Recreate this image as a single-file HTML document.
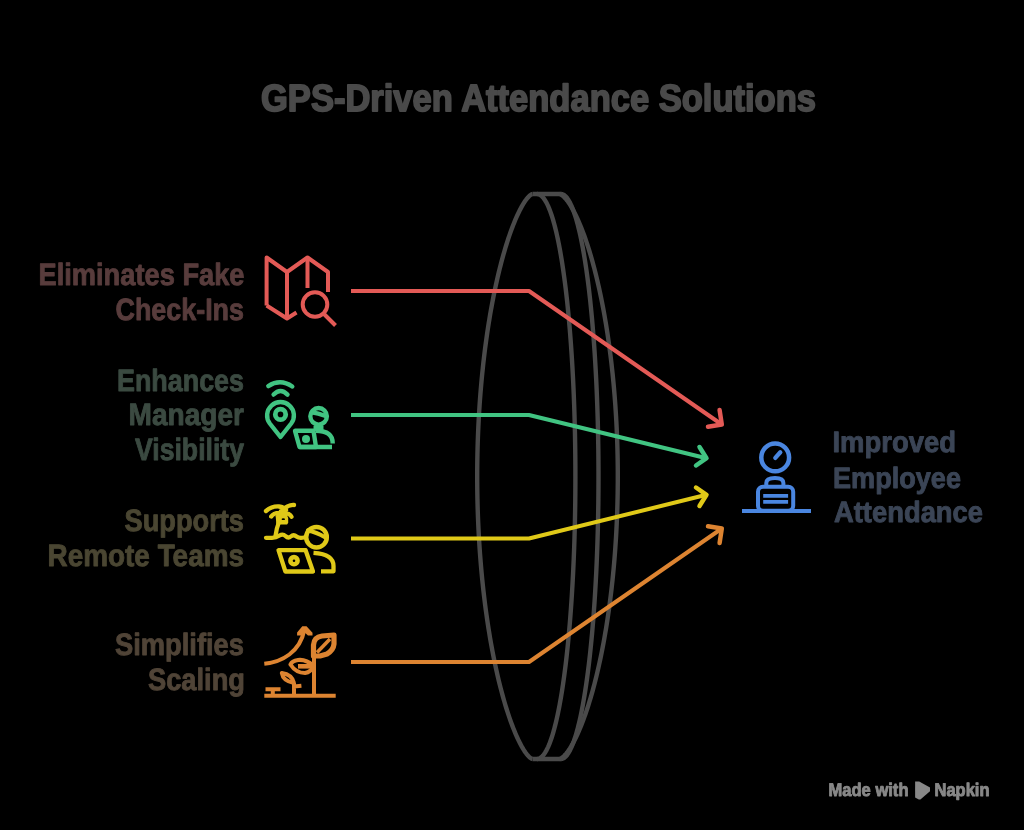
<!DOCTYPE html>
<html><head><meta charset="utf-8"><style>
html,body{margin:0;padding:0;background:#000;width:1024px;height:830px;overflow:hidden}
svg{display:block;will-change:transform} text{text-rendering:geometricPrecision;font-family:'Liberation Sans',sans-serif;font-weight:bold}
</style></head><body>
<svg width="1024" height="830" viewBox="0 0 1024 830">
<rect width="1024" height="830" fill="#000"/>
<text x="261.0" y="110.9" font-size="37.9" fill="#4a4a4a" stroke="#4a4a4a" stroke-width="1.8" stroke-linejoin="round" textLength="555.0" lengthAdjust="spacingAndGlyphs">GPS-Driven Attendance Solutions</text>
<text x="38.5" y="284.8" font-size="30.8" fill="#583c3c" stroke="#583c3c" stroke-width="0.9" stroke-linejoin="round" textLength="206.0" lengthAdjust="spacingAndGlyphs">Eliminates Fake</text>
<text x="115.5" y="319.9" font-size="30.8" fill="#583c3c" stroke="#583c3c" stroke-width="0.9" stroke-linejoin="round" textLength="128.5" lengthAdjust="spacingAndGlyphs">Check-Ins</text>
<text x="117.0" y="391.0" font-size="30.8" fill="#3b4a41" stroke="#3b4a41" stroke-width="0.9" stroke-linejoin="round" textLength="127.0" lengthAdjust="spacingAndGlyphs">Enhances</text>
<text x="128.5" y="424.8" font-size="30.8" fill="#3b4a41" stroke="#3b4a41" stroke-width="0.9" stroke-linejoin="round" textLength="115.5" lengthAdjust="spacingAndGlyphs">Manager</text>
<text x="135.0" y="460.0" font-size="30.8" fill="#3b4a41" stroke="#3b4a41" stroke-width="0.9" stroke-linejoin="round" textLength="109.0" lengthAdjust="spacingAndGlyphs">Visibility</text>
<text x="124.5" y="531.1" font-size="30.8" fill="#4a4632" stroke="#4a4632" stroke-width="0.9" stroke-linejoin="round" textLength="119.5" lengthAdjust="spacingAndGlyphs">Supports</text>
<text x="47.5" y="566.3" font-size="30.8" fill="#4a4632" stroke="#4a4632" stroke-width="0.9" stroke-linejoin="round" textLength="196.5" lengthAdjust="spacingAndGlyphs">Remote Teams</text>
<text x="115.0" y="655.2" font-size="30.8" fill="#504437" stroke="#504437" stroke-width="0.9" stroke-linejoin="round" textLength="129.0" lengthAdjust="spacingAndGlyphs">Simplifies</text>
<text x="148.0" y="689.5" font-size="30.8" fill="#504437" stroke="#504437" stroke-width="0.9" stroke-linejoin="round" textLength="97.0" lengthAdjust="spacingAndGlyphs">Scaling</text>
<text x="832.5" y="452.0" font-size="29.4" fill="#3b4556" stroke="#3b4556" stroke-width="0.9" stroke-linejoin="round" textLength="123.5" lengthAdjust="spacingAndGlyphs">Improved</text>
<text x="833.0" y="487.7" font-size="29.4" fill="#3b4556" stroke="#3b4556" stroke-width="0.9" stroke-linejoin="round" textLength="128.0" lengthAdjust="spacingAndGlyphs">Employee</text>
<text x="834.0" y="521.9" font-size="29.4" fill="#3b4556" stroke="#3b4556" stroke-width="0.9" stroke-linejoin="round" textLength="149.0" lengthAdjust="spacingAndGlyphs">Attendance</text>
<text x="828.5" y="795.6" font-size="18.4" fill="#888888" stroke="#888888" stroke-width="0.9" stroke-linejoin="round" textLength="80.0" lengthAdjust="spacingAndGlyphs">Made with</text>
<text x="934.5" y="795.6" font-size="18.4" fill="#888888" stroke="#888888" stroke-width="0.9" stroke-linejoin="round" textLength="55.0" lengthAdjust="spacingAndGlyphs">Napkin</text>

<g stroke="#4a4a4a" stroke-width="4.4" fill="none" stroke-linejoin="round">
<path d="M532.50,194.00 L532.21,194.05 L531.78,194.22 L531.26,194.49 L530.67,194.87 L530.04,195.36 L529.36,195.96 L528.65,196.66 L527.90,197.48 L527.12,198.40 L526.31,199.43 L525.48,200.56 L524.63,201.81 L523.76,203.15 L522.87,204.61 L521.96,206.16 L521.04,207.83 L520.10,209.59 L519.16,211.46 L518.20,213.43 L517.23,215.50 L516.26,217.68 L515.28,219.95 L514.30,222.32 L513.31,224.79 L512.31,227.36 L511.32,230.02 L510.32,232.78 L509.33,235.63 L508.33,238.57 L507.34,241.61 L506.35,244.74 L505.37,247.95 L504.39,251.26 L503.41,254.65 L502.45,258.12 L501.49,261.69 L500.54,265.33 L499.60,269.05 L498.66,272.86 L497.74,276.74 L496.84,280.70 L495.94,284.74 L495.06,288.85 L494.19,293.03 L493.34,297.28 L492.50,301.61 L491.68,306.00 L490.87,310.45 L490.08,314.97 L489.32,319.55 L488.57,324.19 L487.84,328.89 L487.13,333.65 L486.44,338.46 L485.77,343.33 L485.12,348.25 L484.50,353.21 L483.90,358.23 L483.32,363.29 L482.77,368.39 L482.24,373.54 L481.73,378.72 L481.25,383.94 L480.80,389.20 L480.37,394.49 L479.96,399.82 L479.59,405.17 L479.24,410.55 L478.91,415.96 L478.62,421.39 L478.35,426.84 L478.11,432.31 L477.90,437.79 L477.71,443.30 L477.56,448.81 L477.43,454.34 L477.33,459.87 L477.26,465.41 L477.21,470.95 L477.20,476.50 L477.21,482.05 L477.26,487.59 L477.33,493.13 L477.43,498.66 L477.56,504.19 L477.71,509.70 L477.90,515.21 L478.11,520.69 L478.35,526.16 L478.62,531.61 L478.91,537.04 L479.24,542.45 L479.59,547.83 L479.96,553.18 L480.37,558.51 L480.80,563.80 L481.25,569.06 L481.73,574.28 L482.24,579.46 L482.77,584.61 L483.32,589.71 L483.90,594.77 L484.50,599.79 L485.12,604.75 L485.77,609.67 L486.44,614.54 L487.13,619.35 L487.84,624.11 L488.57,628.81 L489.32,633.45 L490.08,638.03 L490.87,642.55 L491.68,647.00 L492.50,651.39 L493.34,655.72 L494.19,659.97 L495.06,664.15 L495.94,668.26 L496.84,672.30 L497.74,676.26 L498.66,680.14 L499.60,683.95 L500.54,687.67 L501.49,691.31 L502.45,694.88 L503.41,698.35 L504.39,701.74 L505.37,705.05 L506.35,708.26 L507.34,711.39 L508.33,714.43 L509.33,717.37 L510.32,720.22 L511.32,722.98 L512.31,725.64 L513.31,728.21 L514.30,730.68 L515.28,733.05 L516.26,735.32 L517.23,737.50 L518.20,739.57 L519.16,741.54 L520.10,743.41 L521.04,745.17 L521.96,746.84 L522.87,748.39 L523.76,749.85 L524.63,751.19 L525.48,752.44 L526.31,753.57 L527.12,754.60 L527.90,755.52 L528.65,756.34 L529.36,757.04 L530.04,757.64 L530.67,758.13 L531.26,758.51 L531.78,758.78 L532.21,758.95 L532.50,759.00"/>
<path d="M537.00,194.00 L537.75,194.05 L538.51,194.22 L539.26,194.49 L540.01,194.87 L540.76,195.36 L541.51,195.96 L542.26,196.66 L543.01,197.48 L543.75,198.40 L544.49,199.43 L545.23,200.56 L545.96,201.81 L546.70,203.15 L547.42,204.61 L548.15,206.16 L548.87,207.83 L549.58,209.59 L550.29,211.46 L551.00,213.43 L551.70,215.50 L552.39,217.68 L553.08,219.95 L553.76,222.32 L554.43,224.79 L555.10,227.36 L555.76,230.02 L556.42,232.78 L557.06,235.63 L557.70,238.57 L558.33,241.61 L558.96,244.74 L559.57,247.95 L560.18,251.26 L560.77,254.65 L561.36,258.12 L561.94,261.69 L562.51,265.33 L563.07,269.05 L563.61,272.86 L564.15,276.74 L564.68,280.70 L565.20,284.74 L565.70,288.85 L566.20,293.03 L566.68,297.28 L567.16,301.61 L567.62,306.00 L568.07,310.45 L568.50,314.97 L568.93,319.55 L569.34,324.19 L569.74,328.89 L570.13,333.65 L570.50,338.46 L570.87,343.33 L571.21,348.25 L571.55,353.21 L571.87,358.23 L572.18,363.29 L572.48,368.39 L572.76,373.54 L573.03,378.72 L573.28,383.94 L573.52,389.20 L573.75,394.49 L573.96,399.82 L574.16,405.17 L574.34,410.55 L574.51,415.96 L574.66,421.39 L574.80,426.84 L574.93,432.31 L575.04,437.79 L575.13,443.30 L575.22,448.81 L575.28,454.34 L575.33,459.87 L575.37,465.41 L575.39,470.95 L575.40,476.50 L575.39,482.05 L575.37,487.59 L575.33,493.13 L575.28,498.66 L575.22,504.19 L575.13,509.70 L575.04,515.21 L574.93,520.69 L574.80,526.16 L574.66,531.61 L574.51,537.04 L574.34,542.45 L574.16,547.83 L573.96,553.18 L573.75,558.51 L573.52,563.80 L573.28,569.06 L573.03,574.28 L572.76,579.46 L572.48,584.61 L572.18,589.71 L571.87,594.77 L571.55,599.79 L571.21,604.75 L570.87,609.67 L570.50,614.54 L570.13,619.35 L569.74,624.11 L569.34,628.81 L568.93,633.45 L568.50,638.03 L568.07,642.55 L567.62,647.00 L567.16,651.39 L566.68,655.72 L566.20,659.97 L565.70,664.15 L565.20,668.26 L564.68,672.30 L564.15,676.26 L563.61,680.14 L563.07,683.95 L562.51,687.67 L561.94,691.31 L561.36,694.88 L560.77,698.35 L560.18,701.74 L559.57,705.05 L558.96,708.26 L558.33,711.39 L557.70,714.43 L557.06,717.37 L556.42,720.22 L555.76,722.98 L555.10,725.64 L554.43,728.21 L553.76,730.68 L553.08,733.05 L552.39,735.32 L551.70,737.50 L551.00,739.57 L550.29,741.54 L549.58,743.41 L548.87,745.17 L548.15,746.84 L547.42,748.39 L546.70,749.85 L545.96,751.19 L545.23,752.44 L544.49,753.57 L543.75,754.60 L543.01,755.52 L542.26,756.34 L541.51,757.04 L540.76,757.64 L540.01,758.13 L539.26,758.51 L538.51,758.78 L537.75,758.95 L537.00,759.00"/>
<path d="M532.5,194 L561,194 M532.5,759 L561,759"/>
<path d="M561.00,194.00 L561.68,194.05 L562.38,194.22 L563.09,194.49 L563.80,194.87 L564.51,195.36 L565.22,195.96 L565.94,196.66 L566.65,197.48 L567.37,198.40 L568.08,199.43 L568.79,200.56 L569.50,201.81 L570.21,203.15 L570.92,204.61 L571.62,206.16 L572.32,207.83 L573.01,209.59 L573.71,211.46 L574.39,213.43 L575.08,215.50 L575.76,217.68 L576.43,219.95 L577.10,222.32 L577.76,224.79 L578.41,227.36 L579.06,230.02 L579.71,232.78 L580.34,235.63 L580.97,238.57 L581.59,241.61 L582.20,244.74 L582.81,247.95 L583.41,251.26 L583.99,254.65 L584.57,258.12 L585.14,261.69 L585.71,265.33 L586.26,269.05 L586.80,272.86 L587.33,276.74 L587.86,280.70 L588.37,284.74 L588.87,288.85 L589.36,293.03 L589.84,297.28 L590.31,301.61 L590.76,306.00 L591.21,310.45 L591.64,314.97 L592.07,319.55 L592.47,324.19 L592.87,328.89 L593.26,333.65 L593.63,338.46 L593.99,343.33 L594.34,348.25 L594.67,353.21 L594.99,358.23 L595.30,363.29 L595.59,368.39 L595.87,373.54 L596.14,378.72 L596.39,383.94 L596.63,389.20 L596.85,394.49 L597.06,399.82 L597.26,405.17 L597.44,410.55 L597.61,415.96 L597.77,421.39 L597.90,426.84 L598.03,432.31 L598.14,437.79 L598.23,443.30 L598.32,448.81 L598.38,454.34 L598.43,459.87 L598.47,465.41 L598.49,470.95 L598.50,476.50 L598.49,482.05 L598.47,487.59 L598.43,493.13 L598.38,498.66 L598.32,504.19 L598.23,509.70 L598.14,515.21 L598.03,520.69 L597.90,526.16 L597.77,531.61 L597.61,537.04 L597.44,542.45 L597.26,547.83 L597.06,553.18 L596.85,558.51 L596.63,563.80 L596.39,569.06 L596.14,574.28 L595.87,579.46 L595.59,584.61 L595.30,589.71 L594.99,594.77 L594.67,599.79 L594.34,604.75 L593.99,609.67 L593.63,614.54 L593.26,619.35 L592.87,624.11 L592.47,628.81 L592.07,633.45 L591.64,638.03 L591.21,642.55 L590.76,647.00 L590.31,651.39 L589.84,655.72 L589.36,659.97 L588.87,664.15 L588.37,668.26 L587.86,672.30 L587.33,676.26 L586.80,680.14 L586.26,683.95 L585.71,687.67 L585.14,691.31 L584.57,694.88 L583.99,698.35 L583.41,701.74 L582.81,705.05 L582.20,708.26 L581.59,711.39 L580.97,714.43 L580.34,717.37 L579.71,720.22 L579.06,722.98 L578.41,725.64 L577.76,728.21 L577.10,730.68 L576.43,733.05 L575.76,735.32 L575.08,737.50 L574.39,739.57 L573.71,741.54 L573.01,743.41 L572.32,745.17 L571.62,746.84 L570.92,748.39 L570.21,749.85 L569.50,751.19 L568.79,752.44 L568.08,753.57 L567.37,754.60 L566.65,755.52 L565.94,756.34 L565.22,757.04 L564.51,757.64 L563.80,758.13 L563.09,758.51 L562.38,758.78 L561.68,758.95 L561.00,759.00"/>
<path d="M559.50,194.00 L559.83,194.05 L560.31,194.22 L560.89,194.49 L561.53,194.87 L562.22,195.36 L562.95,195.96 L563.73,196.66 L564.54,197.48 L565.38,198.40 L566.24,199.43 L567.13,200.56 L568.04,201.81 L568.98,203.15 L569.93,204.61 L570.89,206.16 L571.87,207.83 L572.87,209.59 L573.87,211.46 L574.88,213.43 L575.91,215.50 L576.94,217.68 L577.97,219.95 L579.01,222.32 L580.06,224.79 L581.10,227.36 L582.15,230.02 L583.20,232.78 L584.25,235.63 L585.29,238.57 L586.34,241.61 L587.38,244.74 L588.41,247.95 L589.44,251.26 L590.46,254.65 L591.47,258.12 L592.48,261.69 L593.47,265.33 L594.46,269.05 L595.43,272.86 L596.40,276.74 L597.35,280.70 L598.28,284.74 L599.20,288.85 L600.11,293.03 L601.00,297.28 L601.88,301.61 L602.73,306.00 L603.57,310.45 L604.39,314.97 L605.19,319.55 L605.98,324.19 L606.74,328.89 L607.48,333.65 L608.19,338.46 L608.89,343.33 L609.56,348.25 L610.21,353.21 L610.84,358.23 L611.44,363.29 L612.01,368.39 L612.57,373.54 L613.09,378.72 L613.59,383.94 L614.06,389.20 L614.51,394.49 L614.93,399.82 L615.32,405.17 L615.68,410.55 L616.02,415.96 L616.33,421.39 L616.60,426.84 L616.85,432.31 L617.08,437.79 L617.27,443.30 L617.43,448.81 L617.56,454.34 L617.67,459.87 L617.74,465.41 L617.79,470.95 L617.80,476.50 L617.79,482.05 L617.74,487.59 L617.67,493.13 L617.56,498.66 L617.43,504.19 L617.27,509.70 L617.08,515.21 L616.85,520.69 L616.60,526.16 L616.33,531.61 L616.02,537.04 L615.68,542.45 L615.32,547.83 L614.93,553.18 L614.51,558.51 L614.06,563.80 L613.59,569.06 L613.09,574.28 L612.57,579.46 L612.01,584.61 L611.44,589.71 L610.84,594.77 L610.21,599.79 L609.56,604.75 L608.89,609.67 L608.19,614.54 L607.48,619.35 L606.74,624.11 L605.98,628.81 L605.19,633.45 L604.39,638.03 L603.57,642.55 L602.73,647.00 L601.88,651.39 L601.00,655.72 L600.11,659.97 L599.20,664.15 L598.28,668.26 L597.35,672.30 L596.40,676.26 L595.43,680.14 L594.46,683.95 L593.47,687.67 L592.48,691.31 L591.47,694.88 L590.46,698.35 L589.44,701.74 L588.41,705.05 L587.38,708.26 L586.34,711.39 L585.29,714.43 L584.25,717.37 L583.20,720.22 L582.15,722.98 L581.10,725.64 L580.06,728.21 L579.01,730.68 L577.97,733.05 L576.94,735.32 L575.91,737.50 L574.88,739.57 L573.87,741.54 L572.87,743.41 L571.87,745.17 L570.89,746.84 L569.93,748.39 L568.98,749.85 L568.04,751.19 L567.13,752.44 L566.24,753.57 L565.38,754.60 L564.54,755.52 L563.73,756.34 L562.95,757.04 L562.22,757.64 L561.53,758.13 L560.89,758.51 L560.31,758.78 L559.83,758.95 L559.50,759.00"/>
</g>
<path d="M351,291 L529,291 L721.8,424.5" stroke="#e35a56" stroke-width="4" fill="none" stroke-linejoin="round"/>
<path d="M719.6,410.0 L721.8,424.5 L708.0,426.7" stroke="#e35a56" stroke-width="4.5" fill="none" stroke-linecap="round" stroke-linejoin="round"/>
<path d="M351,415 L529,415 L706.5,458.2" stroke="#41c482" stroke-width="4" fill="none" stroke-linejoin="round"/>
<path d="M699.5,447.0 L706.5,458.2 L696.0,465.5" stroke="#41c482" stroke-width="4.5" fill="none" stroke-linecap="round" stroke-linejoin="round"/>
<path d="M351,538.5 L529,538.5 L706.5,494.8" stroke="#e0c918" stroke-width="4" fill="none" stroke-linejoin="round"/>
<path d="M696.0,487.5 L706.5,494.8 L699.5,506.0" stroke="#e0c918" stroke-width="4.5" fill="none" stroke-linecap="round" stroke-linejoin="round"/>
<path d="M351,662 L529,662 L721.8,528.5" stroke="#dd8431" stroke-width="4" fill="none" stroke-linejoin="round"/>
<path d="M708.0,526.3 L721.8,528.5 L719.6,543.0" stroke="#dd8431" stroke-width="4.5" fill="none" stroke-linecap="round" stroke-linejoin="round"/>


<g stroke="#e35a56" stroke-width="4" fill="none" stroke-linejoin="round">
<path d="M266.6,305.5 L266.6,257.5 L287,272 L307.5,257.5 L328,272 L328,292"/>
<path d="M266.6,305.5 L287,318.5 L296.5,312.5"/>
<path d="M287,272 L287,318.5 M307.5,257.5 L307.5,288"/>
<circle cx="315" cy="304.5" r="12.3"/>
<path d="M323.5,313.5 L335.5,325.5" />
</g>
<g stroke="#41c482" stroke-width="4.4" fill="none">
<path d="M268.3,386.1 Q280.3,378.3 292.3,386.5" stroke-linecap="round"/>
<path d="M273.6,394.6 Q280.5,387.4 287.5,394.6" stroke-linecap="round"/>
<path d="M280.5,437 L269.8,423.5 A13.4,13.4 0 1 1 291.2,423.5 Z" stroke-linejoin="round"/>
<circle cx="280.5" cy="414.4" r="5.2" stroke-width="4.8"/>
<circle cx="318.6" cy="416.3" r="8.3"/>
<path d="M310.5,412 Q318,413 326.5,416.3"/>
<path d="M313.5,426 L323.5,426 L323.5,431 L313.5,431 Z" fill="#41c482" stroke="none"/>
<path d="M295,430.8 L313.5,430.8 L316,447 L299.5,447 Z" stroke-linejoin="round"/>
<path d="M299.5,447 L332,447"/>
<path d="M316,430.8 Q332.7,430.8 332.7,443.4"/>
<circle cx="306" cy="439.1" r="4" fill="#41c482" stroke="none"/>
</g>
<g stroke="#e0c918" stroke-width="4.3" fill="none" stroke-linecap="round" stroke-linejoin="round">
<path d="M275.5,536 Q276.5,528 279,522"/>
<path d="M266,511 Q272,506 279,506.5 Q284,507 286,510 M281,511 Q288,504.5 294,505 M282,513 Q274,512 271.2,516.5 M282,513 Q290,513 291.5,516.8"/>
<path d="M275.7,516.3 L277.9,511.9 L286,512.5 L288.2,517.9 L288.2,522.8 L287.1,524.4 L279,524.4 L276.3,523.9 Z" fill="#e0c918" stroke="none"/>
<ellipse cx="283.3" cy="519.2" rx="1.7" ry="0.9" fill="#000" stroke="none"/>
<path d="M266,537.8 L272,537.8 Q276,537.8 279.5,535.5 Q282.8,533.5 285.5,536 Q288.2,538.8 290.8,536.5 Q293.6,534 296.5,536.5 Q299,538.5 304,537.5"/>
<circle cx="316.5" cy="537.2" r="10.3" stroke-width="4.5"/>
<path d="M308,530.5 Q316,532 325.5,537.5"/>
<path d="M313.5,552.8 Q333.5,554 333.5,566 L333.5,571.3 L321,571.3" stroke-linecap="butt"/>
<path d="M278.5,550.2 L305.6,550.2 L313,571.5 L285.4,571.5 Z"/>
<circle cx="294" cy="560.7" r="3.6" stroke-width="4.6"/>
</g>
<g stroke="#dd8431" stroke-width="4" fill="none" stroke-linejoin="round">
<path d="M264.3,695.7 L335.7,695.7"/>
<path d="M265.5,689.3 L280.5,689.3 M272.8,689.3 L272.8,695"/>
<path d="M294,695 L294,683 Q283,681 281.8,673 Q292,674.5 294,683 M294,686.5 L301.4,685.8"/>
<path d="M314,695 L314,656"/>
<path d="M314,666 Q306,659 298,660 Q292,661 290.4,664.5 Q296,673 305,673 Q311,672 314,666 Z"/>
<path d="M298,666.3 L312,666.3" stroke-width="4.6"/>
<path d="M313.5,656 L313.5,645 Q314,637 322,636 L334,635 L334,644 Q333.5,650 327,654 L320,656 Z" stroke-width="5.2"/>
<path d="M317,652.5 L330,639" stroke-width="3.6"/>
<path d="M264.3,663.8 C282,662 300,652 304.3,630"/>
<path d="M297.1,635.4 L297.1,632.5 L302.3,626.3 L306.5,626.3 L312.5,632.8 L312.5,635.4 L308,635.4 L304.4,632.2 L301,635.4 Z" fill="#dd8431" stroke="none"/>
</g>
<g stroke="#4a86e0" stroke-width="4" fill="none">
<circle cx="775.2" cy="457.4" r="13.9" stroke-width="4.5"/>
<path d="M775.3,457.9 L780.3,452.3" stroke-width="4.3" stroke-linecap="round"/>
<path d="M766.3,487 L766.3,483 Q766.3,478 775,478 Q783.4,478 783.4,483 L783.4,487"/>
<rect x="758" y="486.8" width="35.2" height="24" rx="5"/>
<path d="M763.2,495.9 L788.1,495.9 M763.2,501.9 L788.1,501.9" stroke-width="3.8"/>
<path d="M742,511 L811,511"/>
</g>

<path d="M915.1,781.4 L919.2,781.4 L930,787.5 L930,791.3 L920.4,799.5 L918.8,799.5 L915.1,797.4 Z" fill="#888888"/>
</svg>
</body></html>
